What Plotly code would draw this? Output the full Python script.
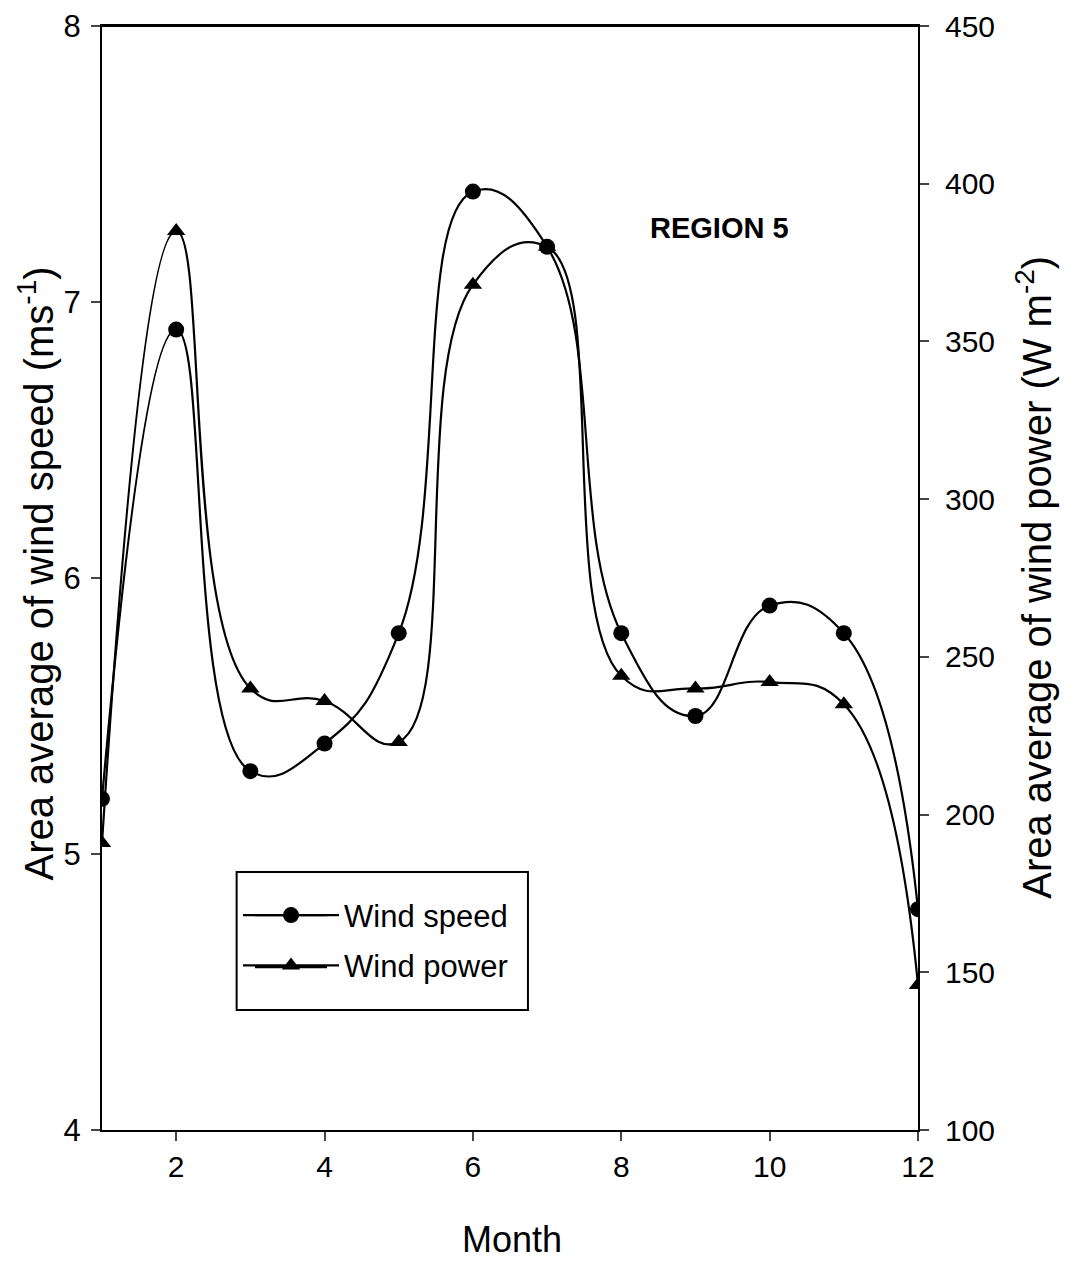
import plotly.graph_objects as go

months = [1, 2, 3, 4, 5, 6, 7, 8, 9, 10, 11, 12]
wind_speed = [5.2, 6.9, 5.3, 5.4, 5.8, 7.4, 7.2, 5.8, 5.5, 5.9, 5.8, 4.8]
wind_power = [191, 385, 240, 236, 223, 368, 380, 244, 240, 242, 235, 146]
x_ticks = [2, 4, 6, 8, 10, 12]
y1_ticks = [4, 5, 6, 7, 8]
y2_ticks = [100, 150, 200, 250, 300, 350, 400, 450]

FONT = "Liberation Sans, Arial, sans-serif"

fig = go.Figure()
fig.add_trace(go.Scatter(
    x=months, y=wind_speed, name="Wind speed", mode="lines+markers",
    legendgroup="a",
    line=dict(color="black", width=2.2, shape="spline", smoothing=1.3),
    marker=dict(symbol="circle", size=16, color="black"),
    yaxis="y"))
fig.add_trace(go.Scatter(
    x=months, y=wind_power, name="Wind power", mode="lines+markers",
    legendgroup="b",
    line=dict(color="black", width=2.2, shape="spline", smoothing=1.3),
    marker=dict(symbol="triangle-up", size=16, color="black"),
    yaxis="y2"))

fig.update_layout(
    width=1070, height=1258,
    margin=dict(l=94, r=160, t=18, b=136, autoexpand=False),
    paper_bgcolor="white", plot_bgcolor="white",
    font=dict(family=FONT, color="black"),
    showlegend=True,
    legend=dict(x=0.1667, y=0.2188, xanchor="left", yanchor="top",
                bgcolor="rgba(0,0,0,0)", borderwidth=0,
                font=dict(size=31, family=FONT), itemwidth=96,
                traceorder="grouped", tracegroupgap=7),
    xaxis=dict(range=[1, 12], tickvals=x_ticks, ticks="outside", ticklen=9,
               tickwidth=2, showline=True, linecolor="black", linewidth=2,
               mirror=True, showgrid=False, zeroline=False, automargin=False,
               ticklabeloverflow="allow", tickfont=dict(size=30)),
    yaxis=dict(range=[4, 8], tickvals=y1_ticks, ticks="outside", ticklen=9,
               tickwidth=2, showline=True, linecolor="black", linewidth=2,
               showgrid=False, zeroline=False, tickfont=dict(size=31),
               ticklabeloverflow="allow",
               automargin=False, ticklabelstandoff=4),
    yaxis2=dict(range=[100, 450], tickvals=y2_ticks, ticks="outside", ticklen=9,
                tickwidth=2, showline=True, linecolor="black", linewidth=2,
                overlaying="y", side="right", showgrid=False, zeroline=False,
                ticklabeloverflow="allow",
                tickfont=dict(size=30), automargin=False, ticklabelstandoff=10),
    shapes=[
        dict(type="line", xref="paper", yref="paper",
             x0=0, x1=1, y0=1, y1=1, line=dict(color="black", width=2)),
        dict(type="rect", xref="paper", yref="paper",
             x0=0.165, x1=0.522, y0=0.1087, y1=0.2337,
             line=dict(color="black", width=2), fillcolor="rgba(0,0,0,0)"),
        dict(type="line", xref="paper", yref="paper",
             x0=0.1875, x1=0.2757, y0=0.1947, y1=0.1947,
             line=dict(color="black", width=2.2)),
        dict(type="line", xref="paper", yref="paper",
             x0=0.1875, x1=0.2757, y0=0.1476, y1=0.1476,
             line=dict(color="black", width=2.2)),
    ],
    annotations=[
        dict(text="<b>REGION 5</b>", x=0.757, y=0.817, xref="paper", yref="paper",
             xanchor="center", yanchor="middle",
             showarrow=False, font=dict(size=29, family=FONT)),
        dict(text="Area average of wind speed (ms<sup>-1</sup>)", textangle=-90,
             x=-0.081, y=0.504, xref="paper", yref="paper", showarrow=False,
             xanchor="center", yanchor="middle",
             font=dict(size=40, family=FONT)),
        dict(text="Area average of wind power (W m<sup>-2</sup>)", textangle=-90,
             x=1.142, y=0.501, xref="paper", yref="paper", showarrow=False,
             xanchor="center", yanchor="middle",
             font=dict(size=40, family=FONT)),
        dict(text="Month", x=0.502, y=-0.0996, xref="paper", yref="paper",
             xanchor="center", yanchor="middle",
             showarrow=False, font=dict(size=36, family=FONT)),
    ],
)

fig.write_html("out.html")
